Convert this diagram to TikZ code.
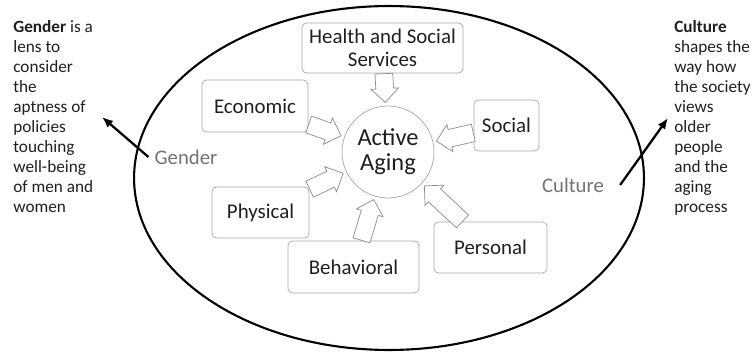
\documentclass[tikz,border=0pt]{standalone}
\usepackage{fontspec}
\setmainfont{Carlito}
\usetikzlibrary{shapes.arrows,calc,arrows.meta}

\definecolor{boxline}{gray}{0.65}
\definecolor{arrowline}{gray}{0.55}
\definecolor{labelgray}{gray}{0.45}
\definecolor{inktext}{gray}{0.12}

% hollow block arrow from a factor box towards the centre circle
\newcommand{\pushto}[2]{%
  \path (#1) -- (#2) coordinate[pos=0] (s);
  \path let \p1=(s), \p2=($(#2)!1cm!(#1)$), \n1={veclen(\x2-\x1,\y2-\y1)} in
    (s) -- (\p2) node[push, sloped, allow upside down, pos=0, anchor=tail, minimum height=\n1] {};
}

\begin{document}
\begin{tikzpicture}[x=0.02cm, y=-0.02cm,
    factor/.style={draw=boxline, rounded corners=2.5pt, text=inktext, align=center, inner sep=0pt,
      font=\fontsize{11.9}{13.1}\selectfont},
    push/.style={single arrow, draw=arrowline, fill=white, inner xsep=0pt, inner ysep=0.17cm,
      single arrow head extend=0.1cm},
    note/.style={anchor=north west, align=left, inner sep=0pt, text=inktext,
      font=\fontsize{9.8}{11.4}\selectfont},
    tag/.style={text=labelgray, font=\fontsize{11.8}{14}\selectfont},
    pointer/.style={line width=1.3pt, -{Latex[length=0.22cm,width=0.18cm]}}]
    \useasboundingbox (0,0) rectangle (753,354);

    % Draw outer ellipse
    \draw[line width=1.2pt] (389,178) ellipse [x radius=5.1cm, y radius=3.44cm];

    % Centre circle
    \node[circle, draw=boxline, minimum size=1.84cm, inner sep=0pt, align=center, text=inktext,
      font=\fontsize{13.9}{14.2}\selectfont] (aa) at (388,152) {Active\\Aging};

    % Factor boxes
    \node[factor, minimum width=3.22cm, minimum height=1cm] (hss) at (382.5,48) {Health and Social\\Services};
    \node[factor, minimum width=2.12cm, minimum height=1.04cm] (eco) at (255,106) {Economic};
    \node[factor, minimum width=1.3cm, minimum height=1.02cm] (soc) at (506.5,125.5) {Social};
    \node[factor, minimum width=1.94cm, minimum height=1.02cm] (phy) at (260.5,212.5) {Physical};
    \node[factor, minimum width=2.62cm, minimum height=1.04cm] (beh) at (353.5,267) {Behavioral};
    \node[factor, minimum width=2.26cm, minimum height=1.02cm] (per) at (490.5,247.5) {Personal};

    % Block arrows into the circle
    \pushto{hss}{aa}
    \pushto{eco}{aa}
    \pushto{soc}{aa}
    \pushto{phy}{aa}
    \pushto{beh}{aa}
    \pushto{per}{aa}

    % Gender and culture labels
    \node[tag] (gl) at (186,157) {Gender};
    \node[tag] (cl) at (573,185) {Culture};
    \coordinate (gtip) at (102,117);
    \coordinate (ctip) at (668,118);
    \draw[pointer] (gl.west) -- (gtip);
    \draw[pointer] ([xshift=0.2cm]cl.east) -- (ctip);

    % Side notes
    \node[note] (gnote) at (13,20) {\textbf{Gender} is a\\lens to\\consider\\the\\aptness of\\policies\\touching\\well-being\\of men and\\women};
    \node[note] (cnote) at (674,20) {\textbf{Culture}\\shapes the\\way how\\the society\\views\\older\\people\\and the\\aging\\process};
\end{tikzpicture}
\end{document}
